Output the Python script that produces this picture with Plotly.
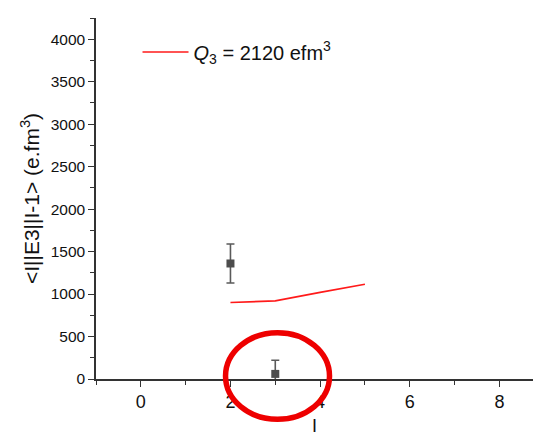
import plotly.graph_objects as go

# Data
exp_spin = [2, 3]
exp_value = [1360, 60]
exp_error = [230, 160]

model_spin = [2, 3, 4, 5]
model_value = [900, 920, 1020, 1115]
model_label = "<i>Q</i><sub>3</sub> = 2120 efm<sup>3</sup>"

x_range = [-1, 8.75]
y_range = [0, 4250]

# highlight ellipse (data units)
circ_cx, circ_cy = 3.05, 35
circ_rx, circ_ry = 1.16, 510

fig = go.Figure()
fig.add_trace(go.Scatter(
    x=model_spin, y=model_value, mode="lines",
    line=dict(color="#ff1a1a", width=1.6),
    name=model_label, showlegend=True))
fig.add_trace(go.Scatter(
    x=exp_spin, y=exp_value, mode="markers",
    marker=dict(symbol="square", size=8, color="#4d4d4d"),
    error_y=dict(type="data", array=exp_error, color="#5a5a5a", thickness=1.6, width=4),
    showlegend=False))

def px(v):
    return (v - x_range[0]) / (x_range[1] - x_range[0])

def py(v):
    return (v - y_range[0]) / (y_range[1] - y_range[0])

fig.add_shape(type="circle", xref="paper", yref="paper",
              x0=px(circ_cx - circ_rx), x1=px(circ_cx + circ_rx),
              y0=py(circ_cy - circ_ry), y1=py(circ_cy + circ_ry),
              line=dict(color="#ee0000", width=5.5), layer="above")

font = "Liberation Sans, Arial, sans-serif"
fig.update_layout(
    width=533, height=439,
    margin=dict(l=96, r=0, t=18, b=60),
    paper_bgcolor="white", plot_bgcolor="white",
    font=dict(family=font, color="#111"),
    showlegend=True,
    legend=dict(x=0.095, y=0.96, xanchor="left", yanchor="top",
                bgcolor="rgba(0,0,0,0)", font=dict(size=20, family=font),
                itemwidth=46),
    xaxis=dict(range=x_range, showgrid=False, zeroline=False,
               showline=True, linecolor="#333", linewidth=1.5,
               ticks="outside", ticklen=6, tickwidth=1.3, tickcolor="#333",
               tick0=0, dtick=2,
               minor=dict(ticks="outside", ticklen=4, dtick=1, tick0=0, tickcolor="#333", tickwidth=1.3),
               tickfont=dict(size=18),
               title=dict(text="I", font=dict(size=18), standoff=8)),
    yaxis=dict(range=y_range, showgrid=False, zeroline=False,
               showline=True, linecolor="#333", linewidth=1.5,
               ticks="outside", ticklen=6, tickwidth=1.3, tickcolor="#333",
               tick0=0, dtick=500,
               minor=dict(ticks="outside", ticklen=4, dtick=250, tick0=0, tickcolor="#333", tickwidth=1.3),
               tickfont=dict(size=15.5),
               title=dict(text="<I||E3||I-1> (e.fm<sup>3</sup>)", font=dict(size=21), standoff=5)),
)

fig.write_html("out.html")
